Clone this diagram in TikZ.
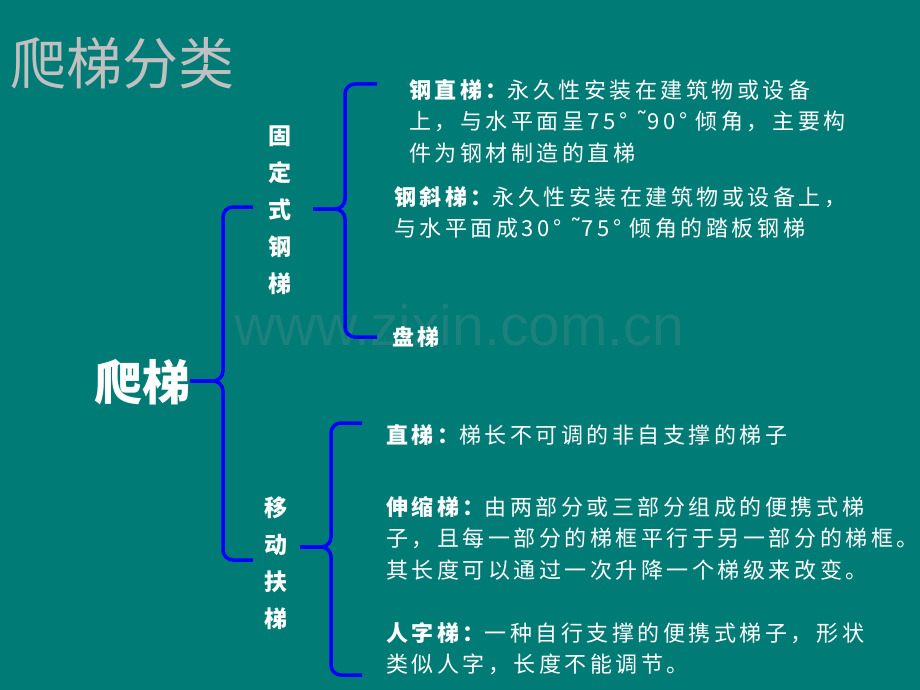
\documentclass[tikz,border=0pt]{standalone}
\usepackage{fontspec}
\setmainfont{Noto Sans CJK SC}
\newfontfamily\bodyfont[LetterSpace=16]{Noto Sans CJK SC}
\newfontfamily\markfont{Liberation Sans}
\newfontfamily\symfont{DejaVu Sans}
\newcommand\tildemark{{\symfont\fontsize{24}{24}\selectfont ˜}}
\definecolor{board}{RGB}{0,123,118}
\definecolor{faint}{RGB}{28,128,124}
\definecolor{headgray}{RGB}{192,192,192}
\tikzset{
  brace/.style={draw=blue, line width=3.5pt, rounded corners=10pt},
  item/.style={anchor=north west, inner sep=0pt, align=left, text=white,
    font=\bodyfont\fontsize{22}{31.5}\selectfont},
  stack/.style={inner sep=0pt, align=center, text=white,
    font=\bfseries\fontsize{23}{37}\selectfont},
}
\begin{document}
\begin{tikzpicture}[x=1pt, y=-1pt]
\useasboundingbox (0,0) rectangle (920,690);
\fill[board] (0,0) rectangle (920,690);
\node[text=faint, font=\markfont\fontsize{57}{57}\selectfont] (wm) at (459,325) {www.zixin.com.cn};
\node[anchor=west, inner sep=0pt, text=headgray, font=\fontsize{56}{56}\selectfont] (title) at (10,63) {爬梯分类};
% tree
\node[inner sep=0pt, text=white, font=\bfseries\fontsize{48}{48}\selectfont] (root) at (142,382) {爬梯};
\node[stack] (fixed) at (280,210) {固\\定\\式\\钢\\梯};
\node[stack] (mobile) at (276,563) {移\\动\\扶\\梯};
\node[item] (straight) at (409,79) {{\bfseries 钢直梯：}永久性安装在建筑物或设备\\上，与水平面呈75° \tildemark90° 倾角，主要构\\件为钢材制造的直梯};
\node[item] (incline) at (394,186) {{\bfseries 钢斜梯：}永久性安装在建筑物或设备上，\\与水平面成30° \tildemark75° 倾角的踏板钢梯};
\node[item] (spiral) at (392,326) {{\bfseries 盘梯}};
\node[item] (direct) at (386,424) {{\bfseries 直梯：}梯长不可调的非自支撑的梯子};
\node[item] (telescope) at (386,496) {{\bfseries 伸缩梯：}由两部分或三部分组成的便携式梯\\子，且每一部分的梯框平行于另一部分的梯框。\\其长度可以通过一次升降一个梯级来改变。};
\node[item] (astep) at (386,622) {{\bfseries 人字梯：}一种自行支撑的便携式梯子，形状\\类似人字，长度不能调节。};
% brace tips
\coordinate (c0) at (190,381);
\coordinate (t0) at (253,207);
\coordinate (b0) at (253,560);
\coordinate (c1) at (313,209);
\coordinate (t1) at (377,84);
\coordinate (b1) at (377,337);
\coordinate (c2) at (300,547);
\coordinate (t2) at (362,423);
\coordinate (b2) at (362,675);
\draw[brace] (c0) -- (223,381) -- (223,207) -- (t0);
\draw[brace] (c0) -- (223,381) -- (223,560) -- (b0);
\draw[brace] (c1) -- (345,209) -- (345,84) -- (t1);
\draw[brace] (c1) -- (345,209) -- (345,337) -- (b1);
\draw[brace] (c2) -- (331,547) -- (331,423) -- (t2);
\draw[brace] (c2) -- (331,547) -- (331,675) -- (b2);
\end{tikzpicture}
\end{document}
